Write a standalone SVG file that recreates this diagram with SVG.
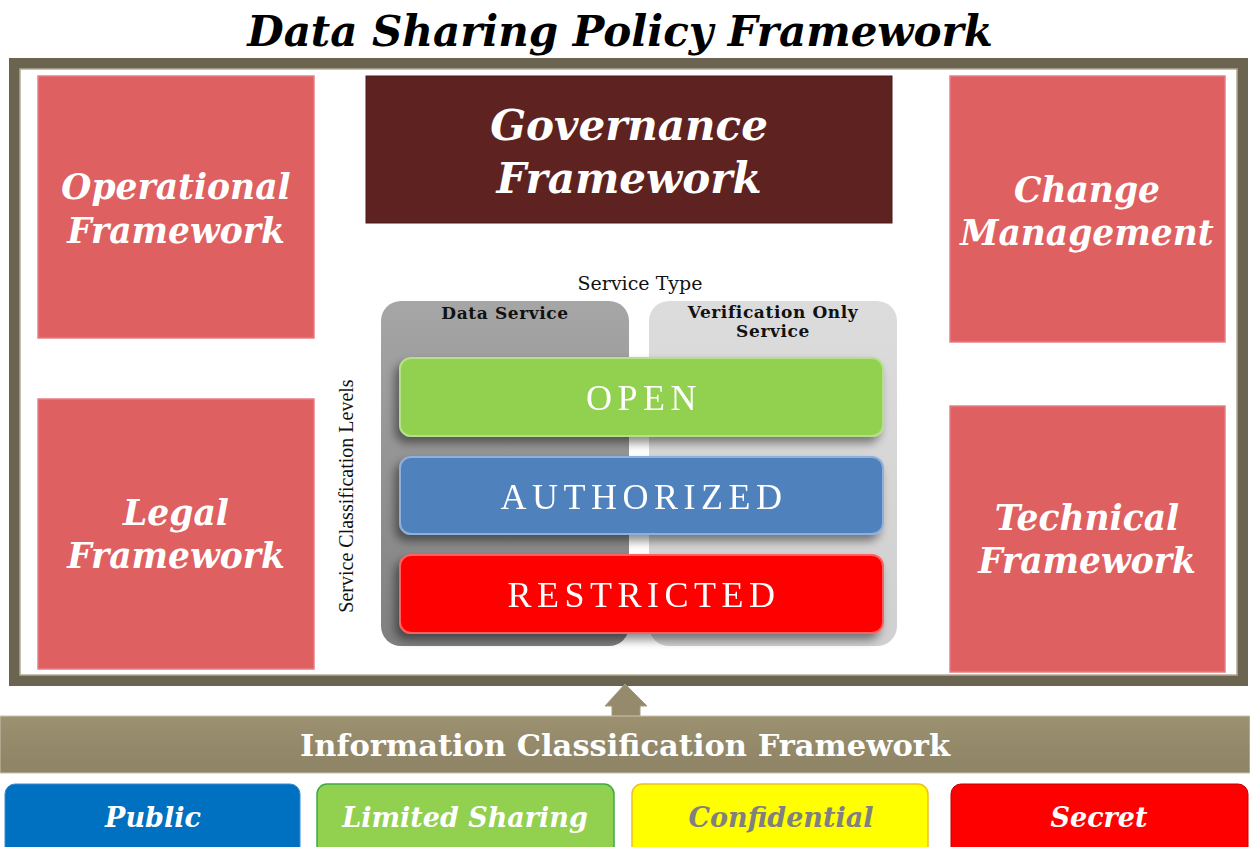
<svg xmlns="http://www.w3.org/2000/svg" width="1250" height="847" viewBox="0 0 1250 847">
<style>
.bi{font-family:"DejaVu Serif","Liberation Serif",serif;font-weight:bold;font-style:italic;text-anchor:middle}
.red{fill:#df6061;stroke:#e77d85;stroke-width:1.5}
.wt{fill:#ffffff;font-size:34.5px}
.lvl{font-family:"Liberation Serif","DejaVu Serif",serif;font-size:36px;fill:#ffffff;text-anchor:middle;letter-spacing:5.5px}
.svc{font-family:"DejaVu Serif","Liberation Serif",serif;font-weight:bold;font-size:17px;letter-spacing:0.6px;fill:#111;text-anchor:middle}
.btn{font-size:27px}
</style>
<defs>
<linearGradient id="gDark" x1="0" y1="0" x2="0" y2="1"><stop offset="0" stop-color="#a6a6a6"/><stop offset="1" stop-color="#7f7f7f"/></linearGradient>
<linearGradient id="gLight" x1="0" y1="0" x2="0" y2="1"><stop offset="0" stop-color="#dcdcdc"/><stop offset="1" stop-color="#d0d0d0"/></linearGradient>
<linearGradient id="gBar" x1="0" y1="0" x2="0" y2="1"><stop offset="0" stop-color="#9c9272"/><stop offset="0.5" stop-color="#948a6a"/><stop offset="1" stop-color="#8e8466"/></linearGradient>
<filter id="sh" x="-10%" y="-20%" width="120%" height="150%"><feGaussianBlur in="SourceAlpha" stdDeviation="5"/><feOffset dx="-4" dy="6"/><feComponentTransfer><feFuncA type="linear" slope="0.45"/></feComponentTransfer><feMerge><feMergeNode/><feMergeNode in="SourceGraphic"/></feMerge></filter>
</defs>
<rect width="1250" height="847" fill="#ffffff"/>

<g id="title"><text x="620" y="46" class="bi" style="font-size:42px;fill:#000">Data Sharing Policy Framework</text></g>

<g id="frame">
<rect x="14.5" y="63.5" width="1228" height="617" fill="#ffffff" stroke="#6b6450" stroke-width="11"/>
<rect x="20" y="69" width="1217" height="606" fill="none" stroke="#b3ab95" stroke-width="1.5"/>
</g>

<g id="operational">
<rect class="red" x="38" y="76" width="276" height="262"/>
<text class="bi wt" x="176" y="199">Operational</text>
<text class="bi wt" x="176" y="243">Framework</text>
</g>

<g id="governance">
<rect x="366" y="76" width="526" height="147" fill="#5e2220" stroke="#4a1a18" stroke-width="1"/>
<text class="bi" x="629" y="140" style="font-size:42px;fill:#fff">Governance</text>
<text class="bi" x="629" y="193" style="font-size:42px;fill:#fff">Framework</text>
</g>

<g id="change">
<rect class="red" x="950" y="76" width="275" height="266"/>
<text class="bi wt" x="1087" y="202">Change</text>
<text class="bi wt" x="1087" y="245">Management</text>
</g>

<g id="legal">
<rect class="red" x="38" y="399" width="276" height="270"/>
<text class="bi wt" x="176" y="525">Legal</text>
<text class="bi wt" x="176" y="568">Framework</text>
</g>

<g id="technical">
<rect class="red" x="950" y="406" width="275" height="266"/>
<text class="bi wt" x="1087" y="530">Technical</text>
<text class="bi wt" x="1087" y="573">Framework</text>
</g>

<g id="service-matrix">
<text x="640" y="290" style="font-family:'DejaVu Serif','Liberation Serif',serif;font-size:19px;fill:#111;text-anchor:middle">Service Type</text>
<text transform="translate(353,496) rotate(-90)" style="font-family:'Liberation Serif','DejaVu Serif',serif;font-size:20px;fill:#111;text-anchor:middle">Service Classification Levels</text>
<g id="data-service">
<rect x="381" y="301" width="248" height="345" rx="20" fill="url(#gDark)"/>
<text class="svc" x="505" y="319">Data Service</text>
</g>
<g id="verification-service">
<rect x="649" y="301" width="248" height="345" rx="20" fill="url(#gLight)"/>
<text class="svc" x="773" y="318">Verification Only</text>
<text class="svc" x="773" y="337">Service</text>
</g>
<g id="open" filter="url(#sh)">
<rect x="400" y="358" width="483" height="78" rx="11" fill="#92d050" stroke="#b5e08a" stroke-width="2"/>
<text class="lvl" x="644" y="410">OPEN</text>
</g>
<g id="authorized" filter="url(#sh)">
<rect x="400" y="457" width="483" height="77" rx="11" fill="#4f81bd" stroke="#8fb0da" stroke-width="2"/>
<text class="lvl" x="644" y="509">AUTHORIZED</text>
</g>
<g id="restricted" filter="url(#sh)">
<rect x="400" y="555" width="483" height="78" rx="11" fill="#ff0000" stroke="#ff6060" stroke-width="2"/>
<text class="lvl" x="644" y="607">RESTRICTED</text>
</g>
</g>

<g id="connectors">
<path d="M625 684 L647 706 L640 706 L640 717 L612 717 L612 706 L605 706 Z" fill="#958b6c" stroke="#a49a7c" stroke-width="1"/>
</g>

<g id="info-classification">
<rect x="0" y="716" width="1250" height="57" fill="url(#gBar)" stroke="#c9c2ae" stroke-width="1"/>
<text x="625" y="756" style="font-family:'DejaVu Serif','Liberation Serif',serif;font-weight:bold;font-size:30.5px;fill:#fff;text-anchor:middle">Information Classification Framework</text>
</g>

<g id="public">
<rect x="5" y="784" width="295" height="75" rx="10" fill="#0070c0" stroke="#3b8ad0" stroke-width="1"/>
<text class="bi btn" x="153" y="827" fill="#fff">Public</text>
</g>
<g id="limited">
<rect x="317" y="784" width="297" height="75" rx="10" fill="#92d050" stroke="#3caa4a" stroke-width="1.5"/>
<text class="bi btn" x="465" y="827" fill="#fff">Limited Sharing</text>
</g>
<g id="confidential">
<rect x="632" y="784" width="296" height="75" rx="10" fill="#ffff00" stroke="#f0c020" stroke-width="1.5"/>
<text class="bi btn" x="781" y="827" fill="#808080">Confidential</text>
</g>
<g id="secret">
<rect x="951" y="784" width="297" height="75" rx="10" fill="#ff0000" stroke="#c00000" stroke-width="1"/>
<text class="bi btn" x="1099" y="827" fill="#fff">Secret</text>
</g>
</svg>
